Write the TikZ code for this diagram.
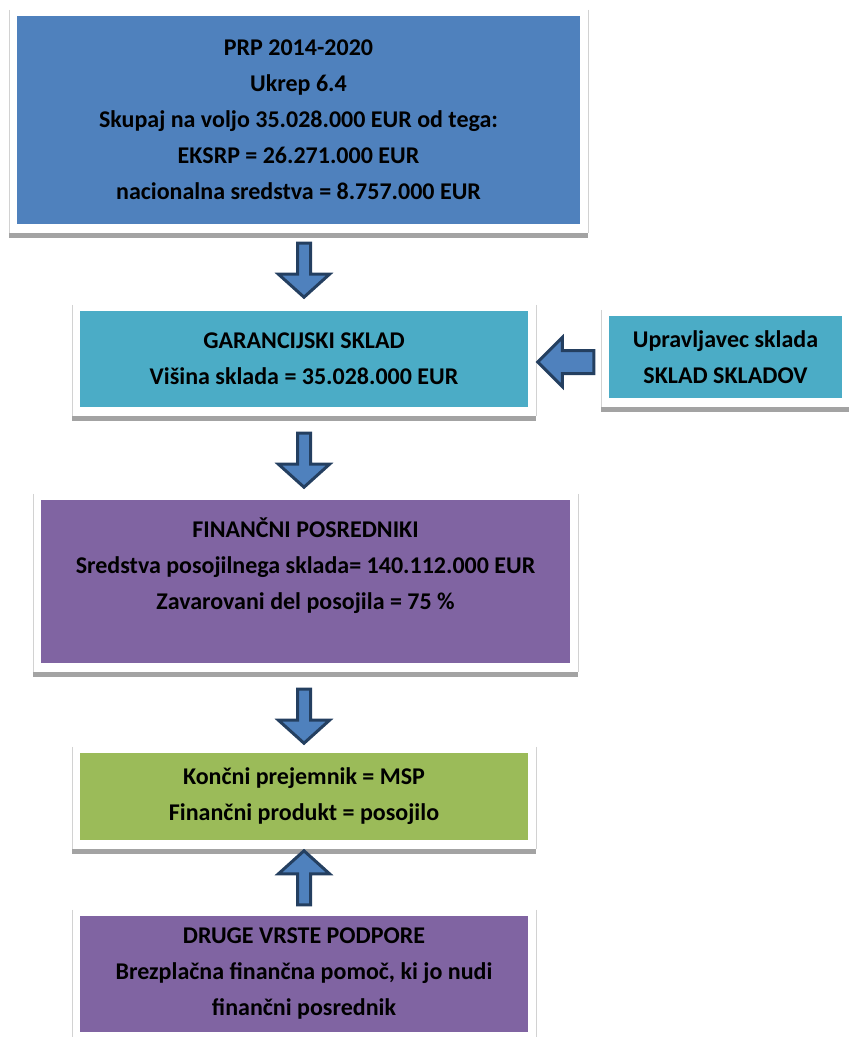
\documentclass[tikz,border=0pt]{standalone}
\usepackage{fontspec}
\setmainfont{Carlito}
\usetikzlibrary{shapes.arrows,positioning,calc,backgrounds}

\definecolor{boxblue}{HTML}{4F81BD}
\definecolor{boxcyan}{HTML}{4BACC6}
\definecolor{boxpurple}{HTML}{8064A2}
\definecolor{boxgreen}{HTML}{9BBB59}
\definecolor{arrowline}{HTML}{243F60}
\definecolor{shadowgray}{HTML}{A3A3A3}
\definecolor{framegray}{HTML}{D2D2D2}

\tikzset{
  panel/.style={rectangle, inner sep=0pt, align=center,
    font=\bfseries\fontsize{24pt}{36pt}\selectfont},
  blockarrow/.style={single arrow, draw=arrowline, fill=boxblue, line width=3pt,
    inner xsep=5pt, inner ysep=13pt, minimum height=54pt,
    single arrow head extend=19pt, single arrow tip angle=96},
}

\begin{document}
\begin{tikzpicture}[x=1pt,y=1pt]
\clip (0,0) rectangle (849,-1037);
% Boxes
\node[panel, fill=boxblue, minimum width=563pt, minimum height=208pt] (b1) at (298.5,-120)
  {PRP 2014-2020\\ Ukrep 6.4\\ Skupaj na voljo 35.028.000 EUR od tega:\\ EKSRP = 26.271.000 EUR\\ nacionalna sredstva = 8.757.000 EUR};
\node[panel, fill=boxcyan, minimum width=448pt, minimum height=96pt] (b2) at (304,-359)
  {GARANCIJSKI SKLAD\\ Višina sklada = 35.028.000 EUR};
\node[panel, fill=boxcyan, minimum width=233pt, minimum height=82pt] (b6) at (725.5,-357)
  {Upravljavec sklada\\ SKLAD SKLADOV};
\node[panel, fill=boxpurple, minimum width=529pt, minimum height=163pt] (b3) at (305.5,-581.5)
  {FINANČNI POSREDNIKI\\ Sredstva posojilnega sklada= 140.112.000 EUR\\ Zavarovani del posojila = 75 \%\\ \mbox{}};
\node[panel, fill=boxgreen, minimum width=448pt, minimum height=87pt] (b4) at (304,-796.5)
  {Končni prejemnik = MSP\\ Finančni produkt = posojilo};
\node[panel, fill=boxpurple, minimum width=448pt, minimum height=116pt] (b5) at (304,-974)
  {DRUGE VRSTE PODPORE\\ Brezplačna finančna pomoč, ki jo nudi\\ finančni posrednik};
% Frames with shadow
\begin{scope}[on background layer]
\foreach \n in {b1,b2,b3,b4,b5,b6} {
  \fill[white] ([shift={(-8,6)}]\n.north west) rectangle ([shift={(8,-9)}]\n.south east);
  \fill[shadowgray] ([shift={(-8,-9)}]\n.south west) rectangle ([shift={(8,-13.5)}]\n.south east);
  \draw[framegray] ([shift={(-8,6)}]\n.north west) -- ([shift={(-8,-9)}]\n.south west);
  \draw[framegray] ([shift={(8,6)}]\n.north east) -- ([shift={(8,-9)}]\n.south east);
}
\end{scope}
% Arrows
\node[blockarrow, shape border rotate=270, anchor=tail] (a1) at ($(b1.south -| b2.south)+(0,-17.5)$) {};
\node[blockarrow, shape border rotate=270, anchor=tail] (a2) at ($(b2.south)+(0,-24.5)$) {};
\node[blockarrow, shape border rotate=270, anchor=tail] (a3) at ($(b3.south -| b2.south)+(0,-24.5)$) {};
\node[blockarrow, shape border rotate=90, anchor=tail] (a4) at ($(b5.north)+(0,9.5)$) {};
\node[blockarrow, shape border rotate=180, anchor=tail, minimum height=56pt, inner ysep=10pt,
  single arrow head extend=13pt, single arrow tip angle=90] (a5) at ($(b6.west)+(-13.5,-5)$) {};
\end{tikzpicture}
\end{document}
